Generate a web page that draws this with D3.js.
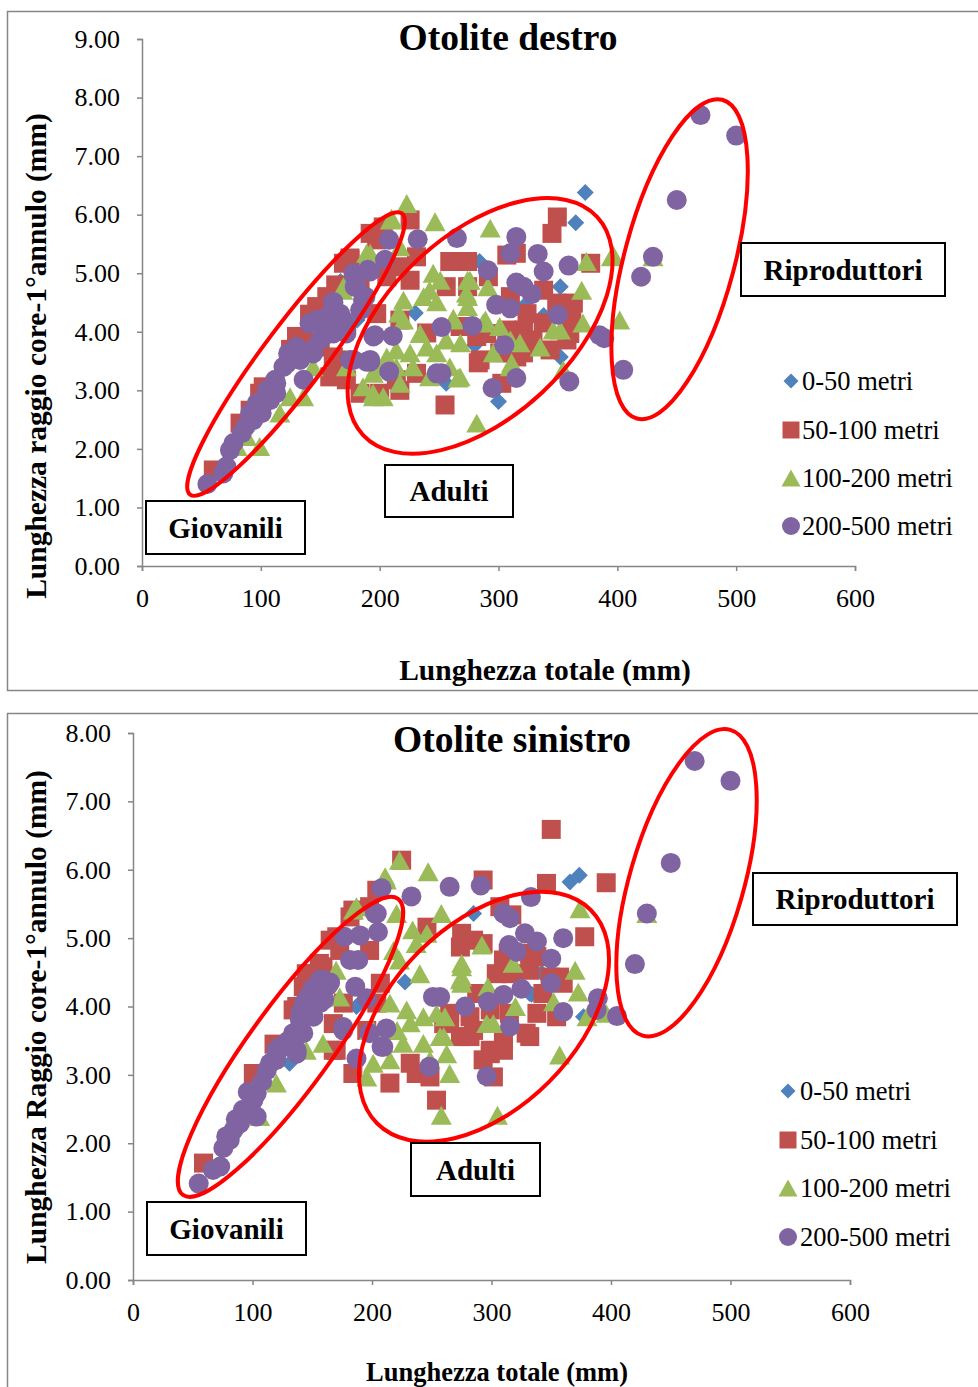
<!DOCTYPE html>
<html>
<head>
<meta charset="utf-8">
<script src="https://cdn.jsdelivr.net/npm/d3@7"></script>
<style>
  body { margin: 0; background: #fff; }
  svg { display: block; }
</style>
</head>
<body>
<svg id="chart" width="978" height="1387"></svg>
<script>
// ---- Categories and tick labels ----
const seriesNames = ["0-50 metri", "50-100 metri", "100-200 metri", "200-500 metri"];
const xTickValues = [0, 100, 200, 300, 400, 500, 600];
const yTicksDestro = [0, 1, 2, 3, 4, 5, 6, 7, 8, 9];
const yTicksSinistro = [0, 1, 2, 3, 4, 5, 6, 7, 8];

// ---- Otolite destro: [lunghezza totale (mm), raggio core-1° annulo (mm)] ----
const destro_0_50 = [
  [373,6.38],[365,5.86],[352,4.77],[338,4.28],[352,3.57],[300,2.81],[280,3.77],[256,3.12],
  [284,5.20],[230,4.32],[322,4.45],[167,4.86],[181,4.20]
];
const destro_50_100 = [
  [349.5,5.96],[345,5.68],[377.6,5.17],[315,5.34],[259,5.20],[274,5.20],[291.5,4.94],[274,4.77],
  [338,4.71],[363,4.49],[349,4.49],[361.7,4.20],[337.6,4.15],[321,4.03],[307,4.03],[281.7,3.92],
  [326.6,3.81],[343.4,3.69],[283,3.47],[302.8,3.12],[255,2.75],[315.4,3.57],[225.6,5.91],[200,5.65],
  [175,5.26],[217,5.11],[231,5.28],[206,4.94],[307,5.31],[183.5,4.88],[256,4.77],[225.6,4.88],
  [310,4.60],[324,4.31],[197.5,4.31],[217,4.20],[239.6,3.98],[267.7,4.09],[290,3.97],[318,3.92],
  [360,3.97],[150,4.20],[164,3.52],[150,3.74],[284.5,3.52],[301,3.64],[312,3.64],[329,3.86],
  [357.6,3.86],[183.5,2.95],[217,3.00],[169,3.35],[231,3.29],[200,2.95],[172,3.18],[214,3.18],
  [358.6,4.03],[321,3.64],
  [60,1.64],[99,2.95],[102,3.06],[136,3.92],[147,4.43],[155.5,4.60],[169.5,5.17],[175,5.23],
  [192,5.68],[197.5,5.57],[203,5.79],[161,3.57],[158,3.23],[130,3.92],[82.5,2.44],[91,2.66],
  [125,3.70],[141,4.30],[163,4.80]
];
const destro_100_200 = [
  [293,5.77],[396.6,5.31],[374,5.20],[370,4.71],[402,4.20],[371,4.15],[352,4.03],[274,4.88],
  [291,4.77],[274,4.60],[262,4.20],[287,4.15],[318,3.81],[335,3.74],[295.5,3.64],[311,3.47],
  [354.5,3.35],[266,3.21],[281.7,2.44],[222.8,6.19],[246.6,5.88],[210,5.94],[395,5.28],[217,5.45],
  [189,5.34],[169,4.71],[245,5.00],[251,4.88],[242,4.71],[276,4.88],[273,4.66],[237,4.60],
  [248,4.51],[220,4.54],[216,4.32],[274,4.43],[220,4.20],[262,4.23],[289,4.20],[301,4.09],
  [310,3.86],[346,4.03],[234,3.97],[256,3.86],[268,3.81],[239.6,3.74],[248,3.64],[225.6,3.64],
  [214,3.69],[206,3.57],[197.5,3.40],[214,3.40],[228,3.40],[259,3.40],[267.7,3.23],[242,3.23],
  [217,3.12],[194.5,2.95],[203,2.89],[172,3.40],[310,3.40],[430,5.28],
  [99,2.04],[124.6,2.89],[136,2.89],[116,2.61],[144,3.40],[169.5,4.77],[192,5.34],[209,5.91],
  [194.7,3.29],[186,3.06],[194.7,2.89],[88,2.21],[80,2.04]
];
const destro_200_500 = [
  [470,7.70],[500,7.35],[450,6.25],[430,5.28],[420,4.94],[405,3.35],
  [265,5.60],[315,5.62],[310,5.34],[333,5.33],[291,5.05],[338,5.03],[359,5.13],[315,4.84],
  [328,4.64],[321,4.77],[298,4.46],[310,4.40],[350,4.29],[252,4.08],[278,4.10],[389,3.89],
  [385,3.94],[305,3.77],[252,3.29],[315,3.21],[295,3.04],[359.6,3.15],[208,5.57],[232,5.58],
  [204.5,5.23],[178,5.00],[190,5.06],[179,4.77],[188,4.60],[161,4.51],[196,3.94],[211,3.93],
  [161,4.12],[189,3.49],[208,3.32],[192,5.03],[183.5,4.37],
  [55,1.40],[68.4,1.58],[71,1.70],[74,1.98],[77,2.10],[84,2.27],[87,2.38],[93.6,2.49],
  [96.5,2.78],[91,2.61],[100.7,2.61],[102,2.78],[105,3.00],[107.7,2.83],[112,3.18],[113,2.95],
  [113,3.12],[119,3.40],[122,3.46],[123,3.63],[130,3.74],[133,3.52],[136,3.18],[141,4.14],
  [143,3.69],[144,3.63],[147,4.20],[150,3.86],[152.6,3.92],[155.5,4.26],[155.5,4.20],[158,4.09],
  [161,3.97],[161,4.49],[166.7,4.31],[169.5,4.20],[172,4.03],[172,3.97],[175,3.52],[178,3.52],
  [180.7,4.77],[186,4.54],[192,3.49],[192,3.52],[194.7,3.92],[248,3.29]
];

// ---- Otolite sinistro ----
const sinistro_0_50 = [
  [373.5,5.92],[365.7,5.82],[285,5.36],[333.6,4.18],[342,4.49],[377,3.85],[227.6,4.36],[187,4.00],
  [332,4.19],[131,3.17]
];
const sinistro_50_100 = [
  [350,6.59],[293,5.85],[346,5.80],[396,5.81],[307,5.46],[317,5.34],[378,5.02],[275,5.07],
  [285,4.97],[274,4.87],[314,4.78],[338,4.73],[304,4.48],[317,4.48],[332,4.53],[357,4.43],
  [343,4.19],[287.6,4.19],[338,3.90],[354.5,3.85],[329,3.61],[285,3.65],[265,3.80],[274,3.56],
  [310,3.51],[299,3.31],[293,3.22],[224.8,6.14],[204,5.70],[184,5.41],[198,5.46],[246,5.16],
  [293,4.92],[173,4.82],[198,4.82],[310,4.68],[332,4.78],[349,4.43],[360,4.34],[204,4.05],
  [207,4.34],[159,4.43],[145,4.48],[176,4.05],[265,3.90],[282,3.85],[299,3.95],[315,3.90],
  [332,3.56],[282,3.56],[299,3.36],[310,3.36],[301.6,2.97],[254,2.63],[215,2.88],[184,3.02],
  [170,3.36],[237,3.02],[248.5,2.97],[232,3.17],[195.6,3.65],[260,3.75],
  [59,1.71],[100.7,3.02],[134,3.95],[142.5,4.29],[149.5,4.48],[159,4.58],[170.5,5.02],[181.6,5.31],
  [167.6,3.75],[167.6,3.36],[165,4.97],[156,4.63],[148,4.43],[137,4.00],[118,3.45]
];
const sinistro_100_200 = [
  [374,5.43],[370,4.53],[372.6,4.21],[380,3.85],[318,4.63],[292,4.90],[275,4.58],[274,4.39],
  [297,4.29],[320,4.00],[352,4.07],[301.5,3.75],[261,3.85],[260,3.56],[357,3.29],[396,3.90],
  [430,5.36],[223,6.14],[247,5.97],[211,5.90],[187,5.46],[220.6,5.36],[258,5.36],[234,5.12],
  [246,5.07],[237,4.92],[218,4.82],[223,4.68],[240,4.48],[275,4.63],[275,4.43],[275,4.34],
  [296,3.75],[215,4.05],[229,3.95],[254,3.90],[243,3.85],[232,3.76],[221,3.65],[201,3.65],
  [209.5,3.46],[226,3.46],[243,3.46],[257,3.56],[262.5,3.31],[248.5,3.22],[215,3.22],[201,3.17],
  [195.6,2.97],[265,3.02],[173,4.14],[159,3.46],[258,2.41],[305,2.41],
  [120,2.88],[145,3.36],[184.5,5.41],[212,5.85],[170,4.53],[198,3.65],[106,2.39],[142,4.09]
];
const sinistro_200_500 = [
  [470,7.59],[500,7.30],[450,6.10],[430,5.36],[420,4.62],[405,3.86],[389,4.12],[388,3.95],
  [265,5.75],[291,5.77],[333,5.60],[310,5.36],[315.5,5.29],[328,5.07],[338,4.95],[360,5.00],
  [314.6,4.90],[321,4.80],[350,4.70],[350,4.34],[325,4.26],[310,4.17],[297,4.07],[278,4.00],
  [360,3.92],[315.5,3.71],[257,4.14],[296,2.98],[208,5.73],[233,5.61],[204,5.36],[177,5.02],
  [190,5.04],[205,5.09],[181.6,4.68],[188.5,4.68],[251,4.14],[186,4.29],[195.6,4.12],[162,4.36],
  [176,3.70],[198,3.61],[212,3.68],[208,3.41],[187,3.24],[248,3.12],[202.5,5.36],[176,3.65],
  [209.5,3.41],
  [55,1.41],[67,1.61],[73,1.66],[75.6,1.93],[78,2.10],[81,2.05],[84,2.19],[86,2.35],
  [89.5,2.29],[92,2.49],[96,2.75],[98,2.55],[100.7,2.63],[103.5,2.39],[103.5,2.73],[108,2.90],
  [112,3.07],[114.6,3.17],[117,3.20],[120,3.22],[120,3.36],[123,3.41],[125,3.40],[128.6,3.46],
  [130,3.50],[134,3.61],[137,3.31],[137,3.36],[139.7,3.80],[140,3.90],[142.5,3.61],[143,4.05],
  [145,3.95],[147,4.15],[150,4.25],[151,4.09],[151,3.85],[153,4.30],[156.5,4.39],[156.5,4.05],
  [157,4.20],[159,4.34],[159,4.39],[160,4.10],[163,4.30],[165,4.35]
];

// ---- Styles ----
const colors = ["#4F81BD", "#C0504D", "#9BBB59", "#8064A2"];
const shapes = ["diamond", "square", "triangle", "circle"];
const serif = "'Liberation Serif', 'Times New Roman', serif";

// Marker path centred on (0,0); s is the nominal marker width
function markerPath(shape, s) {
  const h = s / 2;
  if (shape === "diamond") return `M0,${-h}L${h},0L0,${h}L${-h},0Z`;
  if (shape === "square") return `M${-h},${-h}H${h}V${h}H${-h}Z`;
  if (shape === "triangle") {
    const th = s * 0.9;
    return `M0,${-th / 2}L${h},${th / 2}L${-h},${th / 2}Z`;
  }
  return `M${-h},0A${h},${h} 0 1,0 ${h},0A${h},${h} 0 1,0 ${-h},0Z`;
}
const markerSizes = [17, 19, 21, 20];

const panels = [
  {
    title: "Otolite destro",
    yTitle: "Lunghezza raggio core-1°annulo (mm)",
    xTitle: "Lunghezza totale (mm)",
    xTitleSize: 29.5,
    series: [destro_0_50, destro_50_100, destro_100_200, destro_200_500],
    yTicks: yTicksDestro,
    frame: { x: 7, y: 11, w: 990, h: 679 },
    plot: { left: 142, right: 855, top: 39, bottom: 566 },
    titlePos: [508, 37], yTitlePos: [36, 356], xTitlePos: [545, 670],
    legend: { mx: 791, tx: 802, ys: [381, 430, 478, 526] },
    ellipses: [
      { cx: 129.6, cy: 3.62, rx: 31, ry: 176, rot: 37 },
      { cx: 284.5, cy: 4.10, rx: 160, ry: 91, rot: -43 },
      { cx: 452.4, cy: 5.24, rx: 55, ry: 165, rot: 15 }
    ],
    boxes: [
      { text: "Riproduttori", x: 741, y: 243, w: 204, h: 53 },
      { text: "Adulti", x: 385, y: 465, w: 128, h: 52 },
      { text: "Giovanili", x: 146, y: 501, w: 159, h: 53 }
    ]
  },
  {
    title: "Otolite sinistro",
    yTitle: "Lunghezza Raggio core-1°annulo (mm)",
    xTitle: "Lunghezza totale (mm)",
    xTitleSize: 26.5,
    series: [sinistro_0_50, sinistro_50_100, sinistro_100_200, sinistro_200_500],
    yTicks: yTicksSinistro,
    frame: { x: 7, y: 713, w: 990, h: 700 },
    plot: { left: 133, right: 850, top: 733, bottom: 1280 },
    titlePos: [512, 739], yTitlePos: [36, 1017], xTitlePos: [497, 1372],
    legend: { mx: 788, tx: 800, ys: [1091, 1140, 1188, 1237] },
    ellipses: [
      { cx: 131.8, cy: 3.41, rx: 41, ry: 183, rot: 36 },
      { cx: 293.7, cy: 3.85, rx: 151, ry: 92, rot: -45 },
      { cx: 463.2, cy: 5.81, rx: 57, ry: 159, rot: 16 }
    ],
    boxes: [
      { text: "Riproduttori", x: 753, y: 873, w: 204, h: 52 },
      { text: "Adulti", x: 411, y: 1143, w: 129, h: 53 },
      { text: "Giovanili", x: 147, y: 1202, w: 159, h: 53 }
    ]
  }
];

const svg = d3.select("#chart");
svg.append("rect").attr("width", 978).attr("height", 1387).attr("fill", "#fff");

panels.forEach(p => {
  const g = svg.append("g");
  const yMax = p.yTicks[p.yTicks.length - 1];
  const x = d3.scaleLinear().domain([0, 600]).range([p.plot.left, p.plot.right]);
  const y = d3.scaleLinear().domain([0, yMax]).range([p.plot.bottom, p.plot.top]);

  // chart frame
  g.append("rect")
    .attr("x", p.frame.x + 0.5).attr("y", p.frame.y + 0.5)
    .attr("width", p.frame.w).attr("height", p.frame.h)
    .attr("fill", "#fff").attr("stroke", "#868686").attr("stroke-width", 1.5);

  // axes
  const xAxis = d3.axisBottom(x).tickValues(xTickValues).tickSize(5).tickPadding(14)
    .tickFormat(d3.format("d"));
  const yAxis = d3.axisLeft(y).tickValues(p.yTicks).tickSize(5).tickPadding(17)
    .tickFormat(d3.format(".2f"));

  const gx = g.append("g").attr("transform", `translate(0,${p.plot.bottom})`).call(xAxis);
  const gy = g.append("g").attr("transform", `translate(${p.plot.left},0)`).call(yAxis);
  [gx, gy].forEach(ax => {
    ax.select(".domain").attr("stroke", "#868686").attr("stroke-width", 1.5);
    ax.selectAll(".tick line").attr("stroke", "#868686").attr("stroke-width", 1.5);
    ax.selectAll(".tick text").attr("fill", "#000")
      .style("font-family", serif).style("font-size", "26px");
  });
  gx.selectAll(".tick text").attr("dy", "0.85em");

  // series: 0-50 first, 200-500 on top
  p.series.forEach((data, i) => {
    g.append("g").selectAll("path").data(data).join("path")
      .attr("d", markerPath(shapes[i], markerSizes[i]))
      .attr("transform", d => `translate(${x(d[0])},${y(d[1])})`)
      .attr("fill", colors[i]);
  });

  // group ellipses
  p.ellipses.forEach(e => {
    g.append("ellipse")
      .attr("cx", 0).attr("cy", 0).attr("rx", e.rx).attr("ry", e.ry)
      .attr("transform", `translate(${x(e.cx)},${y(e.cy)}) rotate(${e.rot})`)
      .attr("fill", "none").attr("stroke", "#FF0000").attr("stroke-width", 4);
  });

  // group labels in boxes
  p.boxes.forEach(b => {
    g.append("rect").attr("x", b.x).attr("y", b.y).attr("width", b.w).attr("height", b.h)
      .attr("fill", "#fff").attr("stroke", "#000").attr("stroke-width", 2);
    g.append("text").attr("x", b.x + b.w / 2).attr("y", b.y + b.h / 2)
      .attr("text-anchor", "middle").attr("dominant-baseline", "central")
      .style("font-family", serif).style("font-size", "29px").style("font-weight", "bold")
      .text(b.text);
  });

  // legend
  seriesNames.forEach((name, i) => {
    const ly = p.legend.ys[i];
    g.append("path").attr("d", markerPath(shapes[i], markerSizes[i] - 2))
      .attr("transform", `translate(${p.legend.mx},${ly})`).attr("fill", colors[i]);
    g.append("text").attr("x", p.legend.tx).attr("y", ly)
      .attr("dominant-baseline", "central")
      .style("font-family", serif).style("font-size", "26.5px")
      .text(name);
  });

  // titles
  g.append("text").attr("x", p.titlePos[0]).attr("y", p.titlePos[1])
    .attr("text-anchor", "middle").attr("dominant-baseline", "central")
    .style("font-family", serif).style("font-size", "37.5px").style("font-weight", "bold")
    .text(p.title);
  g.append("text")
    .attr("transform", `translate(${p.yTitlePos[0]},${p.yTitlePos[1]}) rotate(-90)`)
    .attr("text-anchor", "middle").attr("dominant-baseline", "central")
    .style("font-family", serif).style("font-size", "29.5px").style("font-weight", "bold")
    .text(p.yTitle);
  g.append("text").attr("x", p.xTitlePos[0]).attr("y", p.xTitlePos[1])
    .attr("text-anchor", "middle").attr("dominant-baseline", "central")
    .style("font-family", serif).style("font-size", `${p.xTitleSize}px`).style("font-weight", "bold")
    .text(p.xTitle);
});
</script>
</body>
</html>
